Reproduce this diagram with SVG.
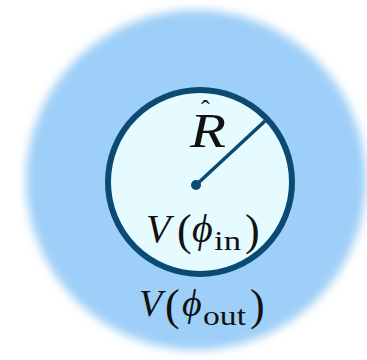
<svg xmlns="http://www.w3.org/2000/svg" width="367" height="360" viewBox="0 0 367 360">
<defs>
<filter id="blur" x="-20%" y="-20%" width="140%" height="140%"><feGaussianBlur stdDeviation="5"/></filter>
<style>
.t{font-family:"Liberation Serif","DejaVu Serif",serif;fill:#111;}
.i{font-style:italic;}
.p{font-size:44px;}
.s{font-size:27px;}
</style>
</defs>
<rect width="367" height="360" fill="#ffffff"/>
<g id="outer">
<circle cx="196" cy="180" r="170" fill="#9ecff8" filter="url(#blur)"/>
</g>
<g id="inner">
<circle cx="200" cy="182" r="92" fill="#e5fbff" stroke="#0b4a72" stroke-width="6"/>
</g>
<g id="connectors">
<line x1="196" y1="185" x2="265" y2="121" stroke="#0b4a72" stroke-width="3.5"/>
<circle cx="196" cy="185" r="5" fill="#0b4a72"/>
</g>
<g id="labels">
<text class="t i" x="190" y="147" font-size="48" textLength="36" lengthAdjust="spacingAndGlyphs">R</text>
<text class="t" x="201" y="118" font-size="26">ˆ</text>
<text class="t" font-size="40"><tspan class="i" x="146" y="242">V</tspan><tspan class="p" x="177" y="245">(</tspan><tspan class="i" x="192" y="242">ϕ</tspan><tspan class="s" x="214" y="250" textLength="27" lengthAdjust="spacingAndGlyphs">in</tspan><tspan class="p" x="245" y="245">)</tspan></text>
<text class="t" font-size="38"><tspan class="i" x="139" y="316">V</tspan><tspan class="p" x="165" y="320">(</tspan><tspan class="i" x="182" y="316">ϕ</tspan><tspan class="s" x="203" y="325" textLength="43" lengthAdjust="spacingAndGlyphs">out</tspan><tspan class="p" x="250" y="320">)</tspan></text>
</g>
</svg>
